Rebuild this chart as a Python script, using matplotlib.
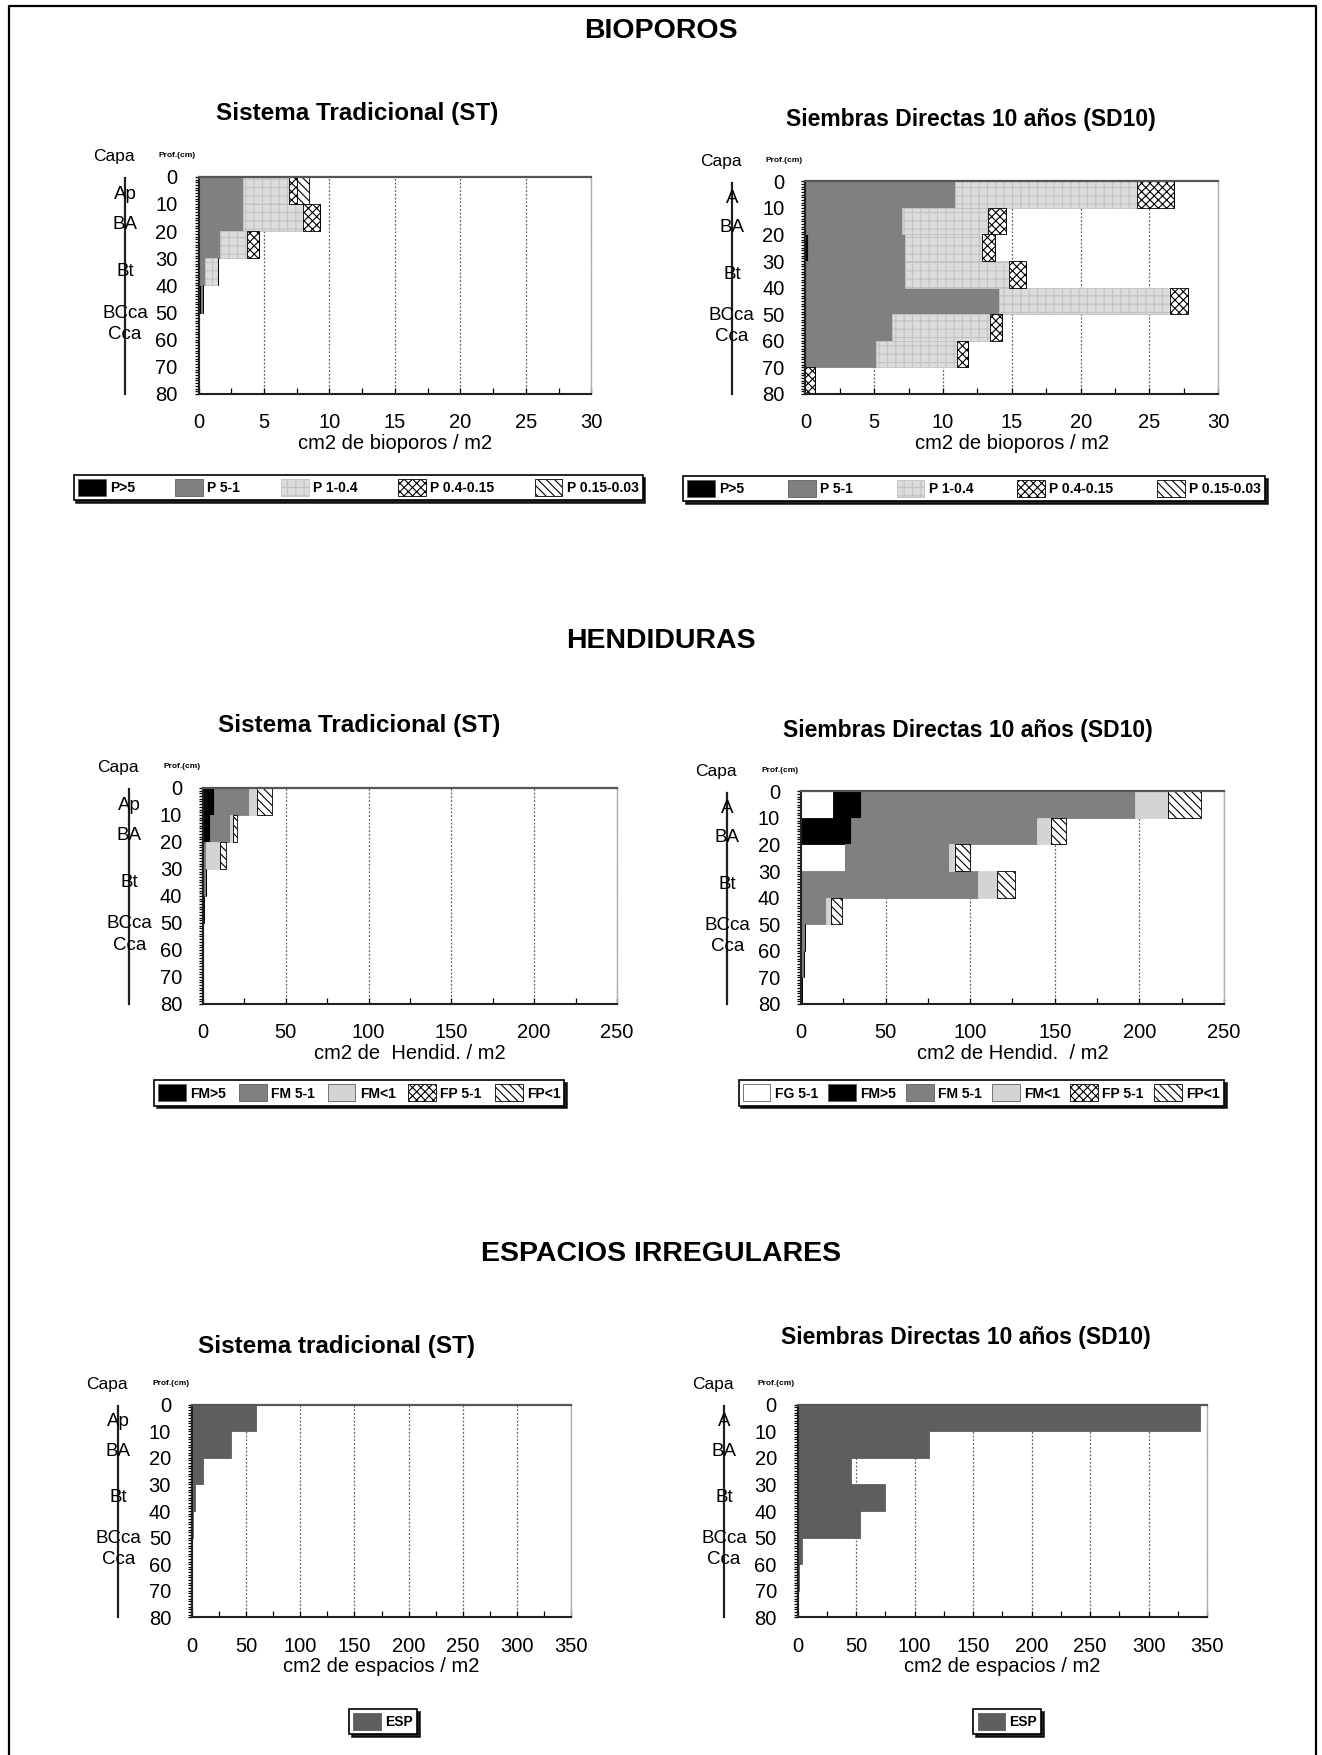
import matplotlib
matplotlib.use('Agg')
import matplotlib.pyplot as plt
from matplotlib.transforms import blended_transform_factory, ScaledTranslation
from matplotlib.lines import Line2D
from matplotlib.patches import Patch
from matplotlib.ticker import MultipleLocator

plt.rcParams['font.family'] = ['Liberation Sans', 'DejaVu Sans']
plt.rcParams['hatch.linewidth'] = 0.8

# ---------------- data ----------------
depth_tops = [0, 10, 20, 30, 40, 50, 60, 70]
layer_thickness = 10
depth_ticks = [0, 10, 20, 30, 40, 50, 60, 70, 80]

horizons_ST = ['Ap', 'BA', 'Bt', 'BCca', 'Cca']
horizons_SD = ['A', 'BA', 'Bt', 'BCca', 'Cca']
horizon_depths = [6.5, 17.5, 35, 50.3, 58.2]

bio_labels = ['P>5', 'P 5-1', 'P 1-0.4', 'P 0.4-0.15', 'P 0.15-0.03']
bio_ST_P5 = [0, 0, 0, 0, 0.2, 0, 0, 0]
bio_ST_P51 = [3.4, 3.4, 1.6, 0.5, 0.1, 0, 0, 0]
bio_ST_P104 = [3.5, 4.6, 2.1, 0.95, 0, 0, 0, 0]
bio_ST_P04015 = [0.6, 1.25, 0.95, 0, 0, 0, 0, 0]
bio_ST_P015003 = [0.9, 0, 0, 0, 0, 0, 0, 0]

bio_SD_P5 = [0, 0, 0.2, 0, 0, 0, 0, 0]
bio_SD_P51 = [10.9, 7.0, 7.0, 7.2, 14.1, 6.3, 5.1, 0]
bio_SD_P104 = [13.2, 6.3, 5.6, 7.6, 12.4, 7.1, 5.9, 0]
bio_SD_P04015 = [2.7, 1.3, 1.0, 1.2, 1.3, 0.9, 0.8, 0.7]
bio_SD_P015003 = [0, 0, 0, 0, 0, 0, 0, 0]

hend_ST_labels = ['FM>5', 'FM 5-1', 'FM<1', 'FP 5-1', 'FP<1']
hend_ST_FM5 = [6.9, 4.1, 0, 0, 0, 0, 0, 0]
hend_ST_FM51 = [20.7, 12.4, 2.0, 1.8, 0.5, 0, 0, 0]
hend_ST_FM1 = [5.0, 1.4, 8.3, 0, 0, 0, 0, 0]
hend_ST_FP51 = [0, 0, 0, 0, 0, 0, 0, 0]
hend_ST_FP1 = [9.2, 2.8, 3.5, 0, 0, 0, 0, 0]

hend_SD_labels = ['FG 5-1', 'FM>5', 'FM 5-1', 'FM<1', 'FP 5-1', 'FP<1']
hend_SD_FG51 = [18.9, 0, 26.3, 0, 0, 0, 0, 0]
hend_SD_FM5 = [16.3, 29.4, 0, 0, 0, 0, 0, 0]
hend_SD_FM51 = [162, 110.3, 61, 104.7, 14.5, 2.5, 1.5, 0.5]
hend_SD_FM1 = [20, 8, 4, 11.2, 3.3, 0, 0, 0]
hend_SD_FP51 = [0, 0, 0, 0, 0, 0, 0, 0]
hend_SD_FP1 = [19.4, 8.7, 8.4, 10.7, 6.7, 0, 0, 0]

esp_labels = ['ESP']
esp_ST = [59.5, 36, 9.8, 2.8, 1.0, 0, 0, 0]
esp_SD = [343.6, 112.4, 45.6, 74.8, 53, 3.9, 1.0, 0.5]

# ---------------- styles ----------------
ST_BLACK = dict(facecolor='black', edgecolor='black', hatch=None)
ST_DGREY = dict(facecolor='#808080', edgecolor='#808080', hatch=None)
ST_LGREY = dict(facecolor='#dcdcdc', edgecolor='#c2c2c2', hatch='++')
ST_CHECK = dict(facecolor='white', edgecolor='black', hatch='xxxx')
ST_DIAG = dict(facecolor='white', edgecolor='black', hatch='\\\\\\\\')
ST_WHITE = dict(facecolor='white', edgecolor='white', hatch=None)
ST_LGREY_PLAIN = dict(facecolor='#d4d4d4', edgecolor='#d4d4d4', hatch=None)
ST_ESP = dict(facecolor='#5e5e5e', edgecolor='#5e5e5e', hatch=None)

# layout helpers (reference space 1185 x 1568 px)
RW, RH = 1185.0, 1568.0
SX = 1322.0 / RW


def fx(x):
    return x / RW


def fy(y):
    return 1 - y / RH


fig = plt.figure(figsize=(13.22, 17.55), dpi=100)

# outer frame
fig.add_artist(Line2D([fx(8), fx(8), fx(1180), fx(1180)], [0, fy(5), fy(5), 0],
                      transform=fig.transFigure, color='black', lw=1.6))


def panel(box, title, title_xy, title_size, series, labels, styles, xmax, xstep,
          xlabel, horizons, leg_box, expand=True):
    l, r, t, b = box
    ax = fig.add_axes([fx(l), fy(b), fx(r) - fx(l), fy(t) - fy(b)])
    left = [0.0] * len(depth_tops)
    for vals, st in zip(series, styles):
        ax.barh(depth_tops, vals, height=layer_thickness, left=left, align='edge',
                facecolor=st['facecolor'], edgecolor=st['edgecolor'],
                hatch=st['hatch'], linewidth=0.6, zorder=2)
        left = [a + v for a, v in zip(left, vals)]
    ax.set_ylim(80, 0)
    ax.set_xlim(0, xmax)
    ax.set_yticks(depth_ticks)
    ax.yaxis.set_minor_locator(MultipleLocator(1))
    ax.xaxis.set_major_locator(MultipleLocator(xstep))
    ax.xaxis.set_minor_locator(MultipleLocator(xstep / 2))
    ax.tick_params(axis='y', which='major', direction='out', length=3, width=0.9,
                   pad=12, labelsize=14.5)
    ax.tick_params(axis='y', which='minor', direction='out', length=3, width=0.9)
    ax.tick_params(axis='x', which='both', direction='in', length=4, width=0.9,
                   pad=14, labelsize=14.5)
    ax.set_xlabel(xlabel, fontsize=14.5, labelpad=1)
    ax.grid(axis='x', which='major', linestyle=(0, (1.5, 1.5)), color='#606060',
            lw=0.9, zorder=1)
    ax.set_axisbelow(True)
    for s in ['left', 'bottom']:
        ax.spines[s].set_color('#202020')
        ax.spines[s].set_linewidth(1.5)
    ax.spines['top'].set_color('#555555')
    ax.spines['top'].set_linewidth(1.6)
    ax.spines['right'].set_color('#b0b0b0')
    ax.spines['right'].set_linewidth(1.0)

    # soil layer column
    def tr(dx_px, ytrans):
        base = blended_transform_factory(ax.transAxes, ytrans)
        return base + ScaledTranslation(dx_px * SX / 100.0, 0, fig.dpi_scale_trans)

    trd = tr(-66, ax.transData)
    ax.plot([0, 0], [0.5, 80], transform=trd, color='#202020', lw=1.6,
            clip_on=False)
    for name, d in zip(horizons, horizon_depths):
        ax.text(0, d, name, transform=trd, ha='center', va='center',
                fontsize=13.5, clip_on=False)
    tra = blended_transform_factory(ax.transAxes, ax.transAxes)
    off = ScaledTranslation(-76 * SX / 100.0, 0.2, fig.dpi_scale_trans)
    ax.text(0, 1, 'Capa', transform=tra + off, ha='center', va='center',
            fontsize=12.5)
    off2 = ScaledTranslation(-19 * SX / 100.0, 0.21, fig.dpi_scale_trans)
    ax.text(0, 1, 'Prof.(cm)', transform=tra + off2, ha='center', va='center',
            fontsize=6, fontweight='bold')

    fig.text(fx(title_xy[0]), fy(title_xy[1]), title, ha='center', va='center',
             fontsize=title_size, fontweight='bold')

    handles = [Patch(facecolor=st['facecolor'],
                     edgecolor=('#606060' if st['hatch'] is None else st['edgecolor']),
                     hatch=st['hatch'], linewidth=0.6) for st in styles]
    lx0, lx1, ly0, ly1 = leg_box
    kw = dict(loc='center', bbox_to_anchor=(fx(lx0), fy(ly1), fx(lx1) - fx(lx0),
                                             fy(ly0) - fy(ly1)),
              bbox_transform=fig.transFigure, ncol=len(labels), frameon=True,
              fancybox=False, edgecolor='black', framealpha=1,
              shadow={'color': 'black', 'alpha': 0.85},
              prop=dict(size=10, weight='bold'), handlelength=2.0,
              handleheight=1.5, handletextpad=0.3, borderpad=0.3,
              borderaxespad=0, columnspacing=0.8)
    if expand:
        kw['mode'] = 'expand'
    leg = fig.legend(handles, labels, **kw)
    leg.get_frame().set_linewidth(1.2)
    return ax


# section titles
fig.text(0.5, fy(28), 'BIOPOROS', ha='center', va='center', fontsize=20.5,
         fontweight='bold')
fig.text(0.5, fy(573), 'HENDIDURAS', ha='center', va='center', fontsize=20.5,
         fontweight='bold')
fig.text(0.5, fy(1120), 'ESPACIOS IRREGULARES', ha='center', va='center',
         fontsize=20.5, fontweight='bold')

bio_styles = [ST_BLACK, ST_DGREY, ST_LGREY, ST_CHECK, ST_DIAG]
panel((178, 530, 158, 352), 'Sistema Tradicional (ST)', (320, 101), 17.5,
      [bio_ST_P5, bio_ST_P51, bio_ST_P104, bio_ST_P04015, bio_ST_P015003],
      bio_labels, bio_styles, 30, 5, 'cm2 de bioporos / m2', horizons_ST,
      (66, 576, 424, 447))
panel((722, 1092, 162, 352), 'Siembras Directas 10 años (SD10)', (870, 107), 16.5,
      [bio_SD_P5, bio_SD_P51, bio_SD_P104, bio_SD_P04015, bio_SD_P015003],
      bio_labels, bio_styles, 30, 5, 'cm2 de bioporos / m2', horizons_SD,
      (612, 1134, 424, 449))

hst_styles = [ST_BLACK, ST_DGREY, ST_LGREY_PLAIN, ST_CHECK, ST_DIAG]
panel((182, 553, 704, 897), 'Sistema Tradicional (ST)', (322, 648), 17.5,
      [hend_ST_FM5, hend_ST_FM51, hend_ST_FM1, hend_ST_FP51, hend_ST_FP1],
      hend_ST_labels, hst_styles, 250, 50, 'cm2 de  Hendid. / m2', horizons_ST,
      (138, 506, 965, 988))
hsd_styles = [ST_WHITE, ST_BLACK, ST_DGREY, ST_LGREY_PLAIN, ST_CHECK, ST_DIAG]
panel((718, 1097, 707, 897), 'Siembras Directas 10 años (SD10)', (868, 653), 16.5,
      [hend_SD_FG51, hend_SD_FM5, hend_SD_FM51, hend_SD_FM1, hend_SD_FP51, hend_SD_FP1],
      hend_SD_labels, hsd_styles, 250, 50, 'cm2 de Hendid.  / m2', horizons_SD,
      (662, 1097, 965, 988))

panel((172, 512, 1255, 1445), 'Sistema tradicional (ST)', (302, 1203), 17.5,
      [esp_ST], esp_labels, [ST_ESP], 350, 50, 'cm2 de espacios / m2', horizons_ST,
      (312, 375, 1526, 1550), expand=False)
panel((715, 1082, 1255, 1445), 'Siembras Directas 10 años (SD10)', (866, 1195), 16.5,
      [esp_SD], esp_labels, [ST_ESP], 350, 50, 'cm2 de espacios / m2', horizons_SD,
      (870, 936, 1526, 1550), expand=False)

fig.savefig('out.png', dpi=100, facecolor='white')
